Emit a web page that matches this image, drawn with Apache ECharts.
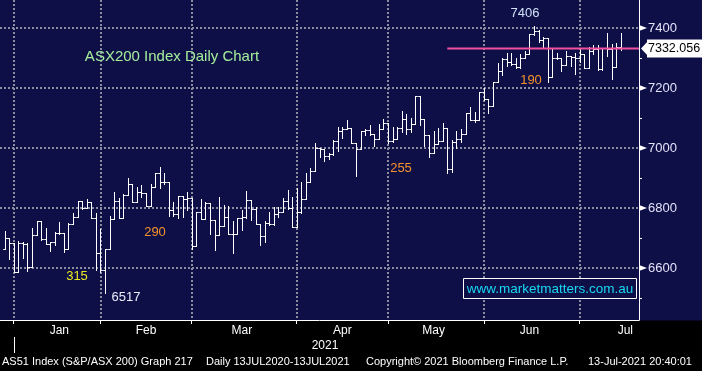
<!DOCTYPE html>
<html><head><meta charset="utf-8"><title>ASX200 Index Daily Chart</title>
<script src="https://cdn.jsdelivr.net/npm/echarts@6.0.0/dist/echarts.min.js"></script>
<style>html,body{margin:0;padding:0;background:#000;overflow:hidden}#chart{width:702px;height:371px}</style>
</head><body><div id="chart"></div>
<script>
// ---------- data ----------
const dates = [
 '2020-12-29','2020-12-30','2020-12-31',
 '2021-01-04','2021-01-05','2021-01-06','2021-01-07','2021-01-08','2021-01-11','2021-01-12','2021-01-13','2021-01-14','2021-01-15',
 '2021-01-18','2021-01-19','2021-01-20','2021-01-21','2021-01-22','2021-01-25','2021-01-27','2021-01-28','2021-01-29',
 '2021-02-01','2021-02-02','2021-02-03','2021-02-04','2021-02-05','2021-02-08','2021-02-09','2021-02-10','2021-02-11','2021-02-12',
 '2021-02-15','2021-02-16','2021-02-17','2021-02-18','2021-02-19','2021-02-22','2021-02-23','2021-02-24','2021-02-25','2021-02-26',
 '2021-03-01','2021-03-02','2021-03-03','2021-03-04','2021-03-05','2021-03-08','2021-03-09','2021-03-10','2021-03-11','2021-03-12',
 '2021-03-15','2021-03-16','2021-03-17','2021-03-18','2021-03-19','2021-03-22','2021-03-23','2021-03-24','2021-03-25','2021-03-26',
 '2021-03-29','2021-03-30','2021-03-31',
 '2021-04-01','2021-04-06','2021-04-07','2021-04-08','2021-04-09','2021-04-12','2021-04-13','2021-04-14','2021-04-15','2021-04-16',
 '2021-04-19','2021-04-20','2021-04-21','2021-04-22','2021-04-23','2021-04-26','2021-04-27','2021-04-28','2021-04-29','2021-04-30',
 '2021-05-03','2021-05-04','2021-05-05','2021-05-06','2021-05-07','2021-05-10','2021-05-11','2021-05-12','2021-05-13','2021-05-14',
 '2021-05-17','2021-05-18','2021-05-19','2021-05-20','2021-05-21','2021-05-24','2021-05-25','2021-05-26','2021-05-27','2021-05-28','2021-05-31',
 '2021-06-01','2021-06-02','2021-06-03','2021-06-04','2021-06-07','2021-06-08','2021-06-09','2021-06-10','2021-06-11',
 '2021-06-15','2021-06-16','2021-06-17','2021-06-18','2021-06-21','2021-06-22','2021-06-23','2021-06-24','2021-06-25',
 '2021-06-28','2021-06-29','2021-06-30',
 '2021-07-01','2021-07-02','2021-07-05','2021-07-06','2021-07-07','2021-07-08','2021-07-09','2021-07-12','2021-07-13'
];
const padBefore = ['2020-12-24'];
const padAfter = ['2021-07-14','2021-07-15','2021-07-16','2021-07-19'];

const opens = [
 6662,6699,6682,
 6587,6682,6679,6604,6710,6757,6696,6679,6688,6716,6716,6662,6746,6771,6823,6799,6821,6766,6651,
 6593,6662,6762,6824,6766,6842,6880,6819,6852,6849,6807,6869,6916,6888,6886,6793,6780,6840,6830,6832,
 6673,6788,6762,6816,6760,6709,6740,6769,6712,6712,6766,6771,6827,6796,6747,6707,6751,6746,6780,6788,6823,6799,6736,
 6788,6829,6886,6924,6999,6996,6973,6979,7024,7058,7063,7066,7016,6996,7057,7060,7046,7030,7062,7082,
 7024,7029,7066,7096,7063,7079,7173,7096,7043,6982,7013,7023,7066,6929,7019,7030,7046,7116,7093,7093,7186,
 7162,7141,7219,7258,7297,7285,7279,7270,7301,7312,7379,7390,7360,7368,7236,7299,7299,7277,7308,7304,7301,
 7313,7266,7323,7329,7263,7332,7330,7271,7335
];
const highs = [
 6723,6699,6682,
 6690,6686,6682,6734,6757,6757,6732,6688,6721,6752,6716,6749,6784,6823,6823,6830,6821,6782,6730,
 6665,6773,6852,6832,6846,6899,6880,6869,6877,6849,6880,6916,6938,6916,6886,6821,6840,6840,6854,6832,
 6788,6830,6819,6816,6760,6836,6810,6807,6757,6766,6793,6858,6827,6805,6747,6757,6786,6802,6805,6832,6860,6838,6866,
 6886,6916,6932,7016,6999,6996,6982,7027,7069,7069,7093,7066,7016,7058,7062,7077,7046,7079,7097,7082,
 7069,7069,7124,7112,7099,7173,7173,7096,7043,7057,7066,7082,7066,7027,7057,7063,7116,7136,7119,7186,7201,
 7162,7219,7282,7299,7315,7316,7299,7312,7323,7379,7407,7393,7371,7368,7332,7316,7301,7323,7308,7316,7332,
 7313,7338,7343,7343,7332,7382,7348,7351,7383
];
const lows = [
 6662,6630,6586,
 6586,6632,6591,6602,6710,6693,6679,6657,6677,6713,6652,6662,6746,6771,6796,6799,6766,6593,6588,
 6517,6662,6762,6766,6766,6842,6819,6819,6838,6807,6807,6869,6866,6880,6774,6774,6766,6769,6793,6662,
 6673,6762,6762,6712,6660,6709,6740,6712,6649,6712,6727,6768,6760,6747,6677,6688,6743,6743,6771,6788,6797,6736,6736,
 6784,6829,6886,6924,6971,6958,6963,6977,6990,7032,7063,7016,6908,6996,7043,7043,7008,7030,7062,7016,
 7020,7029,7054,7046,7054,7079,7077,7007,6969,6982,7013,7023,6918,6921,7001,7019,7046,7093,7086,7093,7160,
 7118,7141,7219,7243,7273,7277,7268,7268,7301,7312,7377,7354,7338,7221,7236,7296,7257,7277,7274,7246,7286,
 7266,7266,7312,7260,7260,7305,7229,7271,7326
];
const closes = [
 6699,6682,6587,
 6682,6679,6604,6710,6757,6696,6679,6688,6716,6716,6662,6746,6771,6823,6799,6821,6766,6651,6593,
 6662,6762,6824,6766,6842,6880,6819,6852,6849,6807,6869,6916,6888,6886,6793,6780,6840,6830,6832,6673,
 6788,6762,6816,6760,6709,6740,6769,6712,6712,6766,6771,6827,6796,6747,6707,6751,6746,6780,6788,6823,6799,6736,6788,
 6829,6886,6924,6999,6996,6973,6979,7024,7058,7063,7066,7016,6996,7057,7060,7046,7030,7062,7082,7024,
 7029,7066,7096,7063,7079,7173,7096,7043,6982,7013,7023,7066,6929,7019,7030,7046,7116,7093,7093,7186,7162,
 7141,7219,7258,7297,7285,7279,7270,7301,7312,7379,7390,7360,7368,7236,7299,7299,7277,7308,7304,7301,7313,
 7266,7323,7329,7263,7332,7330,7271,7335,7332.056
];

const yTickLabels = [6600, 6800, 7000, 7200, 7400];
const monthNames = ['Jan','Feb','Mar','Apr','May','Jun','Jul'];
const monthLabelDates = ['2021-01-15','2021-02-12','2021-03-15','2021-04-16','2021-05-14','2021-06-15','2021-07-14'];
const yearLabel = '2021';
const yearStartDate = '2020-12-31';
const levelValue = 7332.056;
const levelStartDate = '2021-05-19';
const chartTitle = 'ASX200 Index Daily Chart';
const peakNote = '7406';
const lowNote = '6517';
const rangeNotes = ['315', '290', '255', '190'];
const websiteText = 'www.marketmatters.com.au';
const footerParts = ['AS51 Index (S&P/ASX 200) Graph 217', 'Daily 13JUL2020-13JUL2021',
  'Copyright\u00A9 2021 Bloomberg Finance L.P.', '13-Jul-2021 20:40:01'];

// ---------- build ----------
const categories = padBefore.concat(dates, padAfter);
const lastCat = categories[categories.length - 1];
const ohlc = dates.map((d, i) => [d, opens[i], highs[i], lows[i], closes[i]]);
const levelIdx = categories.indexOf(levelStartDate);
const levelData = categories.map((d, i) => (i >= levelIdx ? levelValue : '-'));

function isMonthEnd(i, v) {
  const n = categories[i + 1];
  if (n === undefined) return false;
  return n.slice(0, 7) !== v.slice(0, 7);
}

const FONT = 'Liberation Sans, Arial, sans-serif';
const NAVY = '#0f0f48';
const GRID = '#8c8ca0';

const chart = echarts.init(document.getElementById('chart'), null, {renderer: 'canvas'});

const yMin = 6426.667, yMax = 7493.333;

const tickMarkers = yTickLabels.map(v => ({
  coord: [lastCat, v], symbol: 'triangle', symbolSize: [6, 8], symbolRotate: -90, symbolOffset: [4, 0],
  itemStyle: {color: '#ffffff'}
}));
tickMarkers.push({
  coord: [lastCat, levelValue], symbol: 'triangle', symbolSize: [17, 8], symbolRotate: 90, symbolOffset: [6, 0],
  itemStyle: {color: '#ffffff'}
});

chart.setOption({
  animation: false,
  backgroundColor: NAVY,
  grid: {left: -1.3, right: 63, top: 0, bottom: 51, containLabel: false},
  xAxis: {
    type: 'category', data: categories, boundaryGap: false,
    axisLine: {lineStyle: {color: '#ffffff', width: 1}},
    axisTick: {show: true, interval: isMonthEnd, length: 4, lineStyle: {color: '#ffffff'}},
    axisLabel: {
      interval: (i, v) => monthLabelDates.indexOf(v) >= 0,
      formatter: v => monthNames[monthLabelDates.indexOf(v)] || '',
      color: '#ffffff', fontSize: 12, fontFamily: FONT, margin: 5
    },
    splitLine: {show: true, interval: isMonthEnd, lineStyle: {color: GRID, type: [2, 2], width: 2}}
  },
  yAxis: [{
    type: 'value', position: 'right', min: yMin, max: yMax,
    minInterval: 100, maxInterval: 100, splitNumber: 10, scale: true,
    axisLine: {show: true, lineStyle: {color: '#ffffff', width: 1}},
    axisTick: {show: true, length: 3, lineStyle: {color: '#ffffff'}},
    axisLabel: {
      show: true, margin: 9, showMinLabel: false, showMaxLabel: false,
      formatter: v => (yTickLabels.indexOf(Math.round(v)) >= 0 ? String(Math.round(v)) : ''),
      color: '#e2e2f8', fontSize: 13, fontFamily: FONT
    },
    splitLine: {show: false}
  }, {
    type: 'value', position: 'right', min: yMin, max: yMax,
    minInterval: 200, maxInterval: 200, splitNumber: 5, scale: true,
    axisLine: {show: false}, axisTick: {show: false}, axisLabel: {show: false},
    splitLine: {show: true, showMinLine: false, showMaxLine: false,
      lineStyle: {color: GRID, type: [2, 2], width: 2}}
  }],
  series: [{
    type: 'custom', name: 'AS51', yAxisIndex: 0, z: 3,
    dimensions: ['date', 'open', 'high', 'low', 'close'],
    encode: {x: 0, y: [1, 2, 3, 4]},
    data: ohlc,
    renderItem: function (params, api) {
      const x = api.value(0);
      const o = api.coord([x, api.value(1)]);
      const h = api.coord([x, api.value(2)]);
      const l = api.coord([x, api.value(3)]);
      const c = api.coord([x, api.value(4)]);
      const w = api.size([1, 0])[0] / 2;
      const px = Math.round(o[0]) + 0.5;
      const oy = Math.round(o[1]) + 0.5, cy = Math.round(c[1]) + 0.5;
      const st = {stroke: '#ffffff', lineWidth: 1};
      return {type: 'group', children: [
        {type: 'line', shape: {x1: px, y1: Math.round(h[1]), x2: px, y2: Math.round(l[1]) + 1}, style: st},
        {type: 'line', shape: {x1: px - w, y1: oy, x2: px, y2: oy}, style: st},
        {type: 'line', shape: {x1: px, y1: cy, x2: px + w, y2: cy}, style: st}
      ]};
    }
  }, {
    type: 'line', name: 'level', yAxisIndex: 0, z: 5,
    data: levelData, showSymbol: false, symbol: 'none',
    lineStyle: {color: '#f2509e', width: 2},
    markPoint: {silent: true, label: {show: false}, data: tickMarkers},
    endLabel: {
      show: true, distance: 8,
      formatter: () => levelValue.toFixed(3),
      color: '#000000', backgroundColor: '#ffffff', fontSize: 12.5, fontFamily: FONT,
      padding: [3, 2, 2, 1]
    }
  }]
});

// ---------- annotations ----------
function txt(s, x, y, color, size, align) {
  return {type: 'text', x: x, y: y, z: 10,
    style: {text: s, fill: color, font: size + 'px ' + FONT, align: align || 'center', verticalAlign: 'middle'}};
}
const yearX = chart.convertToPixel({xAxisIndex: 0}, yearStartDate);
const graphics = [
  {type: 'rect', z: -10, silent: true, shape: {x: 0, y: 320.5, width: 702, height: 51}, style: {fill: '#000000'}},
  txt(chartTitle, 172, 57, '#a4ee9c', 15),
  txt(peakNote, 525, 13, '#cfe0f6', 13),
  txt(rangeNotes[3], 531, 80, '#f5922a', 13),
  txt(rangeNotes[2], 401, 168, '#f5922a', 13),
  txt(rangeNotes[1], 155, 232, '#f5922a', 13),
  txt(rangeNotes[0], 77, 276, '#e8e820', 13),
  txt(lowNote, 126, 297, '#e8eef8', 13),
  {type: 'rect', z: 10, shape: {x: 463.5, y: 278.5, width: 173, height: 20},
    style: {fill: NAVY, stroke: '#ffffff', lineWidth: 1}},
  txt(websiteText, 550, 289, '#18d8f2', 13.5),
  txt(yearLabel, 325, 346, '#ffffff', 12),
  {type: 'line', z: 10, shape: {x1: Math.round(yearX) + 0.5, y1: 337, x2: Math.round(yearX) + 0.5, y2: 353},
    style: {stroke: '#ffffff', lineWidth: 1}},
  txt(footerParts[0], 2, 362, '#ffffff', 11, 'left'),
  txt(footerParts[1], 206, 362, '#ffffff', 11, 'left'),
  txt(footerParts[2], 366, 362, '#ffffff', 11, 'left'),
  txt(footerParts[3], 588, 362, '#ffffff', 11, 'left')
];
chart.setOption({graphic: {elements: graphics}});
</script>
</body></html>
